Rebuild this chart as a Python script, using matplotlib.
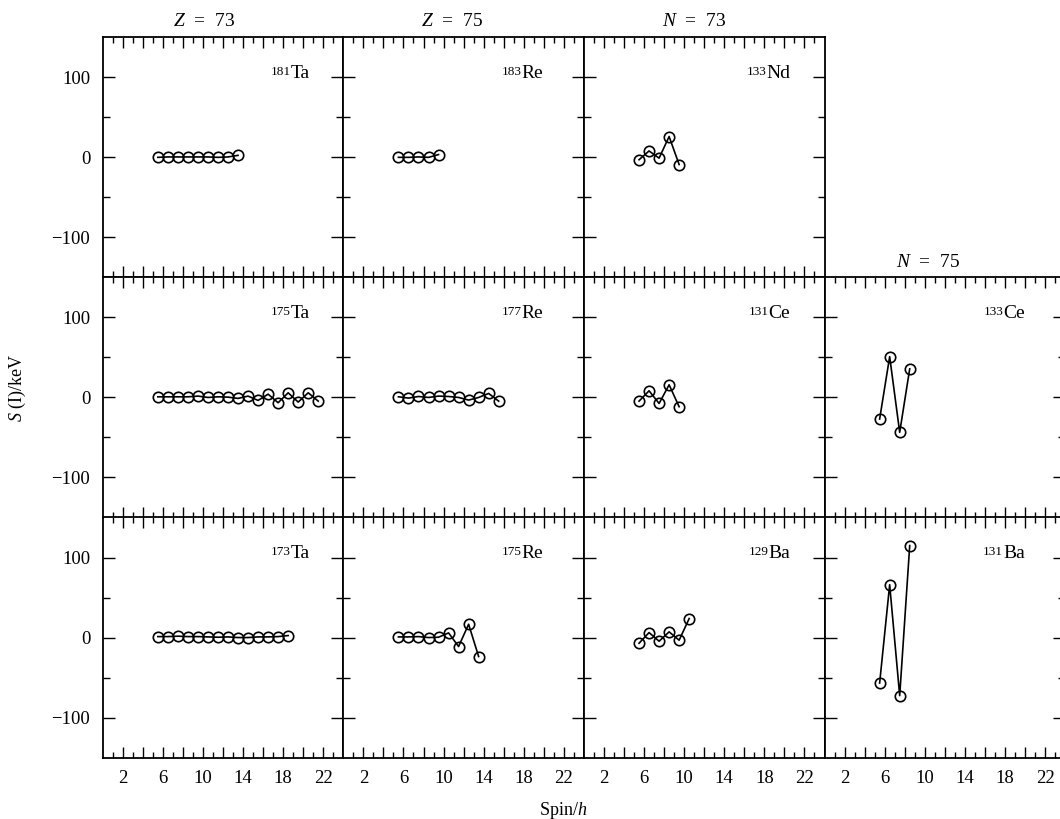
import matplotlib
matplotlib.use('Agg')
import matplotlib.pyplot as plt
from matplotlib.ticker import FixedLocator, FixedFormatter

plt.rcParams['font.family'] = 'Liberation Serif'
plt.rcParams['mathtext.fontset'] = 'custom'
plt.rcParams['mathtext.rm'] = 'Liberation Serif'
plt.rcParams['mathtext.it'] = 'Liberation Serif:italic'

# signature splitting S(I) in keV against spin (hbar)
spin_181Ta = [5.5, 6.5, 7.5, 8.5, 9.5, 10.5, 11.5, 12.5, 13.5]
S_181Ta = [0, 0.5, 0.5, 0.5, 0.5, 0.5, 0, 0.5, 2.5]
spin_183Re = [5.5, 6.5, 7.5, 8.5, 9.5]
S_183Re = [0, 0, 0.5, 0, 3.5]
spin_133Nd = [5.5, 6.5, 7.5, 8.5, 9.5]
S_133Nd = [-3, 8, -1, 26, -9]

spin_175Ta = [5.5, 6.5, 7.5, 8.5, 9.5, 10.5, 11.5, 12.5, 13.5, 14.5, 15.5,
              16.5, 17.5, 18.5, 19.5, 20.5, 21.5]
S_175Ta = [0.8, 0.8, 0.8, 0.8, 1.7, 0, 0.8, 0.4, -1.2, 1.7, -3.7, 4.1, -6.6,
           5.8, -5.8, 5.8, -4.6]
spin_177Re = [5.5, 6.5, 7.5, 8.5, 9.5, 10.5, 11.5, 12.5, 13.5, 14.5, 15.5]
S_177Re = [0.8, -0.8, 1.2, 0, 1.7, 1.2, 0, -3.3, 0, 5, -4.6]
spin_131Ce = [5.5, 6.5, 7.5, 8.5, 9.5]
S_131Ce = [-4.6, 8.3, -7.5, 15.8, -11.6]
spin_133Ce = [5.5, 6.5, 7.5, 8.5]
S_133Ce = [-27, 51, -43.6, 35.7]

spin_173Ta = [5.5, 6.5, 7.5, 8.5, 9.5, 10.5, 11.5, 12.5, 13.5, 14.5, 15.5,
              16.5, 17.5, 18.5]
S_173Ta = [1.2, 1.2, 1.7, 1.2, 1.2, 0.8, 0.4, 0.8, 0, 0, 0.8, 0.8, 1.2, 2.5]
spin_175Re = [5.5, 6.5, 7.5, 8.5, 9.5, 10.5, 11.5, 12.5, 13.5]
S_175Re = [0.8, 0.8, 1.2, 0, 0.4, 5.8, -11.2, 16.6, -23.7]
spin_129Ba = [5.5, 6.5, 7.5, 8.5, 9.5, 10.5]
S_129Ba = [-7.1, 6.2, -4.6, 7.1, -3.3, 23.7]
spin_131Ba = [5.5, 6.5, 7.5, 8.5]
S_131Ba = [-56.8, 66, -72.6, 114.9]

# (row, col): (mass number, element, spins, values)
panels = {
    (0, 0): ('181', 'Ta', spin_181Ta, S_181Ta),
    (0, 1): ('183', 'Re', spin_183Re, S_183Re),
    (0, 2): ('133', 'Nd', spin_133Nd, S_133Nd),
    (1, 0): ('175', 'Ta', spin_175Ta, S_175Ta),
    (1, 1): ('177', 'Re', spin_177Re, S_177Re),
    (1, 2): ('131', 'Ce', spin_131Ce, S_131Ce),
    (1, 3): ('133', 'Ce', spin_133Ce, S_133Ce),
    (2, 0): ('173', 'Ta', spin_173Ta, S_173Ta),
    (2, 1): ('175', 'Re', spin_175Re, S_175Re),
    (2, 2): ('129', 'Ba', spin_129Ba, S_129Ba),
    (2, 3): ('131', 'Ba', spin_131Ba, S_131Ba),
}

x_major = [2, 4, 6, 8, 10, 12, 14, 16, 18, 20, 22]
x_labels = ['2', '', '6', '', '10', '', '14', '', '18', '', '22']
x_minor = [1, 3, 5, 7, 9, 11, 13, 15, 17, 19, 21, 23]
y_major = [-100, 0, 100]
y_minor = [-50, 50]

W, H = 1060, 819
fig = plt.figure(figsize=(W / 100, H / 100), dpi=100)

left0, colw = 102.7, 240.6
top0, rowh = 37.3, 240.1
label_x = [0.862, 0.83, 0.857, 0.833]

for (r, c), (mass, elem, spins, vals) in panels.items():
    x0 = left0 + c * colw
    y0 = top0 + (r + 1) * rowh
    ax = fig.add_axes([x0 / W, 1 - y0 / H, colw / W, rowh / H])
    ax.plot(spins, vals, '-o', color='black', lw=1.2, ms=7.5,
            mfc='none', mec='black', mew=1.2)
    ax.set_xlim(0, 24)
    ax.set_ylim(-150, 150)
    ax.xaxis.set_major_locator(FixedLocator(x_major))
    ax.xaxis.set_minor_locator(FixedLocator(x_minor))
    ax.xaxis.set_major_formatter(FixedFormatter(x_labels))
    ax.yaxis.set_major_locator(FixedLocator(y_major))
    ax.yaxis.set_minor_locator(FixedLocator(y_minor))
    ax.tick_params(axis='both', which='both', direction='in',
                   top=True, right=True, width=1.0, labelsize=13.5)
    ax.tick_params(axis='x', which='major', length=8, pad=9)
    ax.tick_params(axis='x', which='minor', length=4)
    ax.tick_params(axis='y', which='major', length=8.6, pad=9)
    ax.tick_params(axis='y', which='minor', length=5)
    ax.tick_params(labelbottom=(r == 2), labelleft=(c == 0))
    for sp in ax.spines.values():
        sp.set_linewidth(1.3)
    t = ax.text(label_x[c], 0.83, elem, transform=ax.transAxes,
                ha='right', va='baseline', fontsize=14)
    ax.annotate(mass, xy=(0, 0.95), xycoords=t, ha='right', va='top',
                fontsize=9.5)

title_kw = dict(ha='center', va='baseline', fontsize=14)
fig.text(204 / W, 1 - 26 / H, r'$Z$  =  73', **title_kw)
fig.text(452 / W, 1 - 26 / H, r'$Z$  =  75', **title_kw)
fig.text(694 / W, 1 - 26 / H, r'$N$  =  73', **title_kw)
fig.text(928 / W, 1 - 266.7 / H, r'$N$  =  75', **title_kw)

fig.text(17 / W, 1 - 388 / H, r'$S$ (I)/keV', rotation=90, ha='center',
         va='center', fontsize=13)
fig.text(563 / W, 1 - 815 / H, r'Spin/$h$', ha='center', va='baseline', fontsize=13)

fig.savefig('out.png', dpi=100)
